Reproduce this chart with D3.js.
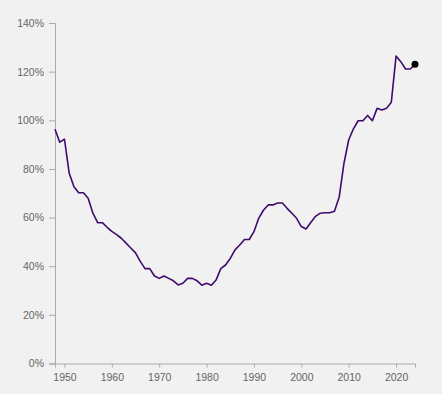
<!DOCTYPE html>
<html>
<head>
<meta charset="utf-8">
<script src="https://cdn.jsdelivr.net/npm/d3@7"></script>
<style>
  html, body { margin: 0; padding: 0; background: #f1f1f1; }
  svg { display: block; }
  .axis text { font-family: "Liberation Sans", Arial, sans-serif; font-size: 10.5px; fill: #666; }
  .axis path, .axis line { stroke: #aaa; }
</style>
</head>
<body>
<div id="chart"></div>
<script>
const years = d3.range(1948, 2025);
const debtPct = [
  96.3, 91, 92.2, 78.2, 72.7, 70.2, 70.2, 67.9, 61.8, 57.9,
  57.9, 56, 54.3, 53, 51.5, 49.5, 47.5, 45.5, 42, 39,
  39, 36, 35, 36, 35, 34, 32.3, 33, 35, 35,
  34, 32.2, 33, 32.2, 34.3, 39, 40.5, 43.2, 46.7, 48.7,
  51, 51, 54.2, 59.7, 63, 65.2, 65.2, 66, 66, 63.8,
  61.8, 59.7, 56.3, 55.3, 58, 60.5, 61.8, 62, 62, 62.6,
  68.5, 82.3, 91.9, 96.5, 99.8, 99.8, 102, 99.8, 104.9, 104.2,
  104.9, 107.4, 126.4, 124.1, 121.1, 121.1, 123
];
const xTicks = [1950, 1960, 1970, 1980, 1990, 2000, 2010, 2020];
const yTicks = [0, 20, 40, 60, 80, 100, 120, 140];

const data = years.map((y, i) => ({ year: y, value: debtPct[i] }));

const W = 442, H = 394;
const margin = { top: 23, right: 27, bottom: 30.5, left: 55 };

const svg = d3.select("#chart")
  .append("svg")
  .attr("width", W)
  .attr("height", H);

const x = d3.scaleLinear()
  .domain([1948, 2024])
  .range([margin.left, W - margin.right]);

const y = d3.scaleLinear()
  .domain([0, 140])
  .range([H - margin.bottom, margin.top]);

svg.append("g")
  .attr("class", "axis")
  .attr("transform", `translate(0,${H - margin.bottom})`)
  .call(d3.axisBottom(x).tickValues(xTicks).tickFormat(d3.format("d")).tickSizeOuter(0).tickSize(4).tickPadding(6));

svg.append("g")
  .attr("class", "axis")
  .attr("transform", `translate(${margin.left},0)`)
  .call(d3.axisLeft(y).tickValues(yTicks).tickFormat(d => d + "%").tickSizeOuter(0).tickSize(6).tickPadding(5));

const line = d3.line()
  .x(d => x(d.year))
  .y(d => y(d.value));

svg.append("path")
  .datum(data)
  .attr("fill", "none")
  .attr("stroke", "#3f0a6e")
  .attr("stroke-width", 1.6)
  .attr("stroke-linejoin", "round")
  .attr("d", line);

// last point marker
const last = data[data.length - 1];
svg.append("circle")
  .attr("cx", x(last.year))
  .attr("cy", y(last.value))
  .attr("r", 3.5)
  .attr("fill", "#000");
</script>
</body>
</html>
